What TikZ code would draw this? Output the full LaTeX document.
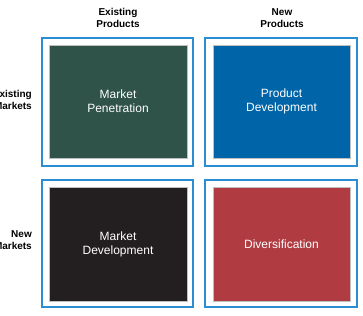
\documentclass[tikz,border=0pt]{standalone}
\usepackage{fontspec}
\setmainfont{Liberation Sans}
\usetikzlibrary{positioning}
\definecolor{frameblue}{RGB}{43,142,208}
\definecolor{pengreen}{RGB}{47,82,73}
\definecolor{devblue}{RGB}{0,100,168}
\definecolor{mktblack}{RGB}{35,31,32}
\definecolor{divred}{RGB}{176,60,66}
\begin{document}
\begin{tikzpicture}[x=1pt,y=-1pt,
        frame/.style={rectangle, draw=frameblue, line width=2pt, inner sep=0pt},
        cell/.style={rectangle, draw=black!25, line width=0.4pt, inner sep=0pt, align=center,
            text=white, font=\fontsize{12}{14}\selectfont},
        axislabel/.style={font=\bfseries\fontsize{10}{12}\selectfont, inner sep=0pt}
    ]
        \useasboundingbox (0,0) rectangle (363,315);
        \clip (0,0) rectangle (363,315);

        % Frames
        \node[frame, minimum width=151pt, minimum height=128pt] (frameTL) at (117.5,102) {};
        \node[frame, minimum width=152pt, minimum height=128pt] (frameTR) at (281,102) {};
        \node[frame, minimum width=151pt, minimum height=127pt] (frameBL) at (117.5,243.5) {};
        \node[frame, minimum width=152pt, minimum height=127pt] (frameBR) at (281,243.5) {};

        % Strategy cells
        \node[cell, fill=pengreen, minimum width=138pt, minimum height=113pt] (pen) at (118,101.5) {Market\\Penetration};
        \node[cell, fill=devblue, minimum width=137pt, minimum height=113pt] (prodev) at (281.5,101.5) {Product\\Development};
        \node[cell, fill=mktblack, minimum width=138pt, minimum height=114pt] (mktdev) at (118,244) {Market\\Development};
        \node[cell, fill=divred, minimum width=137pt, minimum height=114pt] (divers) at (281.5,244) {Diversification};

        % Axis labels
        \node[axislabel, align=center] (existprod) at (118,18) {Existing\\Products};
        \node[axislabel, align=center] (newprod) at (282,18) {New\\Products};
        \node[axislabel, align=right, anchor=east] (existmkt) at (32,100) {Existing\\Markets};
        \node[axislabel, align=right, anchor=east] (newmkt) at (32,240) {New\\Markets};

    \end{tikzpicture}
\end{document}
